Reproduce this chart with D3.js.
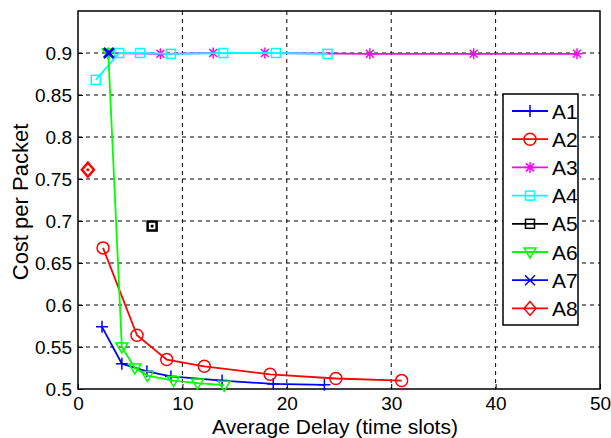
<!DOCTYPE html>
<html>
<head>
<meta charset="utf-8">
<script src="https://cdn.jsdelivr.net/npm/d3@7"></script>
<style>
  body { margin: 0; background: #fff; }
  svg { display: block; font-family: "Liberation Sans", Arial, sans-serif; }
</style>
</head>
<body>
<div id="chart"></div>
<script>
"use strict";

// series: [delay, cost]
const a1 = [[2.3, 0.574], [4.2, 0.530], [6.6, 0.521], [8.9, 0.515], [13.8, 0.510], [18.7, 0.506], [23.6, 0.505]];
const a2 = [[2.4, 0.668], [5.65, 0.564], [8.5, 0.535], [12.1, 0.527], [18.4, 0.5175], [24.7, 0.5125], [31.0, 0.510]];
const a3 = [[2.9, 0.900], [7.9, 0.899], [12.95, 0.900], [17.9, 0.900], [27.95, 0.899], [37.9, 0.899], [47.8, 0.899]];
const a4 = [[1.7, 0.868], [3.95, 0.900], [5.95, 0.900], [8.9, 0.899], [13.9, 0.900], [18.95, 0.900], [23.9, 0.899]];
const a5 = [[7.1, 0.694]];
const a6 = [[2.9, 0.900], [4.2, 0.550], [5.45, 0.525], [6.65, 0.516], [9.15, 0.510], [11.45, 0.507], [14.0, 0.5045]];
const a7 = [[2.95, 0.900]];
const a8 = [[0.95, 0.761]];

const names = ["A1", "A2", "A3", "A4", "A5", "A6", "A7", "A8"];
const colors = ["#0000ff", "#ff0000", "#ff00ff", "#00ffff", "#000000", "#00ff00", "#0000ff", "#ff0000"];
const markers = ["plus", "circle", "star", "square", "square", "tridown", "cross", "diamond"];
const seriesList = [a1, a2, a3, a4, a5, a6, a7, a8];

const xTicks = [0, 10, 20, 30, 40, 50];
const yTicks = [0.5, 0.55, 0.6, 0.65, 0.7, 0.75, 0.8, 0.85, 0.9];

const W = 611, H = 438;
const margin = { top: 11, right: 11, bottom: 49, left: 78 };
const w = W - margin.left - margin.right;
const h = H - margin.top - margin.bottom;

const svg = d3.select("#chart").append("svg")
  .attr("width", W)
  .attr("height", H);

const x = d3.scaleLinear().domain([0, 50]).range([0, w]);
const y = d3.scaleLinear().domain([0.5, 0.95]).range([h, 0]);

const g = svg.append("g")
  .attr("transform", `translate(${margin.left},${margin.top})`);

// dashed grid
g.selectAll(".vgrid")
  .data(xTicks.slice(1, -1))
  .enter().append("line")
  .attr("x1", d => x(d)).attr("x2", d => x(d))
  .attr("y1", 0).attr("y2", h)
  .attr("stroke", "#000").attr("stroke-width", 1)
  .attr("stroke-dasharray", "4,4");

g.selectAll(".hgrid")
  .data(yTicks.slice(1))
  .enter().append("line")
  .attr("x1", 0).attr("x2", w)
  .attr("y1", d => y(d)).attr("y2", d => y(d))
  .attr("stroke", "#000").attr("stroke-width", 1)
  .attr("stroke-dasharray", "4,4");

// axes
const xAxis = g.append("g")
  .attr("transform", `translate(0,${h})`)
  .call(d3.axisBottom(x).tickValues(xTicks).tickSize(-5).tickPadding(8).tickFormat(d3.format("d")));
const yAxis = g.append("g")
  .call(d3.axisLeft(y).tickValues(yTicks).tickSize(-5).tickPadding(6).tickFormat(d => String(d)));

[xAxis, yAxis].forEach(ax => {
  ax.select(".domain").remove();
  ax.selectAll("text").attr("font-size", 19).attr("fill", "#000")
    .attr("font-family", '"Liberation Sans", Arial, sans-serif');
  ax.selectAll("line").attr("stroke", "#000");
});

g.append("rect")
  .attr("width", w).attr("height", h)
  .attr("fill", "none").attr("stroke", "#000").attr("stroke-width", 1.5);

// marker shapes
function drawMarker(sel, type, color, cx, cy, sw) {
  sw = sw || 1.5;
  const s = 5;
  let p = null;
  if (type === "circle") {
    sel.append("circle").attr("cx", cx).attr("cy", cy).attr("r", 6)
      .attr("fill", "none").attr("stroke", color).attr("stroke-width", sw);
    return;
  }
  if (type === "square") {
    sel.append("rect").attr("x", cx - 4.5).attr("y", cy - 4.5).attr("width", 9).attr("height", 9)
      .attr("fill", "none").attr("stroke", color).attr("stroke-width", sw);
    return;
  }
  if (type === "plus") {
    p = `M${cx - 6},${cy}H${cx + 6}M${cx},${cy - 6}V${cy + 6}`;
  } else if (type === "cross") {
    p = `M${cx - s},${cy - s}L${cx + s},${cy + s}M${cx - s},${cy + s}L${cx + s},${cy - s}`;
  } else if (type === "star") {
    p = `M${cx - 5.5},${cy}H${cx + 5.5}M${cx},${cy - 5.5}V${cy + 5.5}` +
      `M${cx - 4},${cy - 4}L${cx + 4},${cy + 4}M${cx - 4},${cy + 4}L${cx + 4},${cy - 4}`;
  } else if (type === "tridown") {
    p = `M${cx - 6},${cy - 4}L${cx + 6},${cy - 4}L${cx},${cy + 6}Z`;
  } else if (type === "diamond") {
    p = `M${cx},${cy - 7}L${cx + 6},${cy}L${cx},${cy + 7}L${cx - 6},${cy}Z`;
  }
  sel.append("path").attr("d", p)
    .attr("fill", "none").attr("stroke", color).attr("stroke-width", sw);
}

const line = d3.line().x(d => x(d[0])).y(d => y(d[1]));

seriesList.forEach((data, i) => {
  const sg = g.append("g");
  if (data.length > 1) {
    sg.append("path").datum(data)
      .attr("d", line)
      .attr("fill", "none")
      .attr("stroke", colors[i])
      .attr("stroke-width", 1.8);
  }
  // lone points are drawn heavier, with a dot in the middle
  const single = data.length === 1;
  data.forEach(d => drawMarker(sg, markers[i], colors[i], x(d[0]), y(d[1]), single ? 2.5 : 1.5));
  if (single && markers[i] !== "cross") {
    sg.append("circle").attr("cx", x(data[0][0])).attr("cy", y(data[0][1]))
      .attr("r", 1.6).attr("fill", colors[i]);
  }
});

// legend
const legend = svg.append("g").attr("transform", "translate(503,94)");
legend.append("rect")
  .attr("width", 75).attr("height", 231)
  .attr("fill", "#fff").attr("stroke", "#000").attr("stroke-width", 1.5);

names.forEach((name, i) => {
  const ly = 17 + i * 28.2;
  legend.append("line")
    .attr("x1", 9).attr("x2", 45).attr("y1", ly).attr("y2", ly)
    .attr("stroke", colors[i]).attr("stroke-width", 1.8);
  drawMarker(legend, markers[i], colors[i], 27, ly);
  legend.append("text")
    .attr("x", 49).attr("y", ly + 7.5)
    .attr("font-size", 21)
    .attr("fill", "#000")
    .text(name);
});

// axis titles
svg.append("text")
  .attr("x", 335)
  .attr("y", 434)
  .attr("text-anchor", "middle")
  .attr("font-size", 21)
  .text("Average Delay (time slots)");

svg.append("text")
  .attr("transform", "translate(28,202) rotate(-90)")
  .attr("text-anchor", "middle")
  .attr("font-size", 22)
  .text("Cost per Packet");
</script>
</body>
</html>
